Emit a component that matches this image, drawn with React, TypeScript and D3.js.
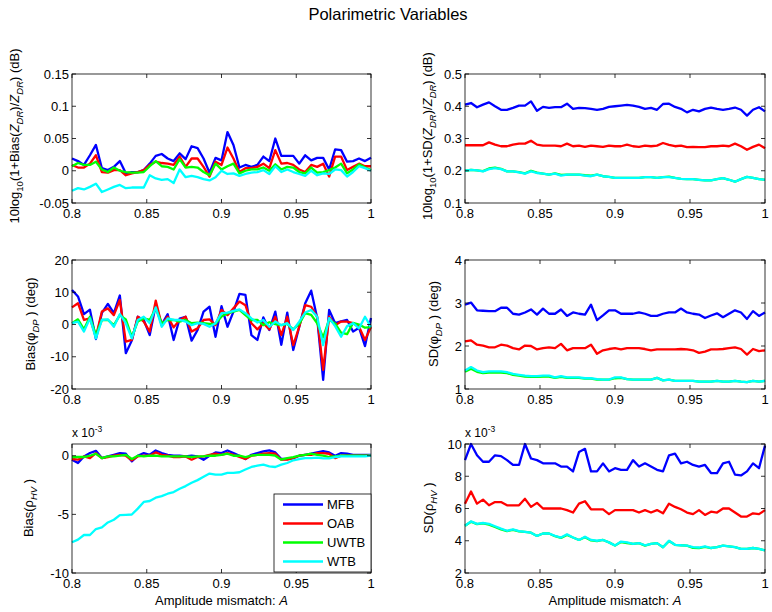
import * as d3 from "d3";

// amplitude mismatch grid, 0.8 .. 1.0
const amplitude = d3.range(51).map((i) => +(0.8 + 0.004 * i).toFixed(3));
const xTicks = [0.8, 0.85, 0.9, 0.95, 1];
const seriesNames = ["MFB", "OAB", "UWTB", "WTB"];
const seriesColors = ["#0000ff", "#ff0000", "#00ff00", "#00ffff"];

// 10log10(1+Bias(Zdr)/Zdr) (dB)
const biasZdrMFB = [0.019, 0.015, 0.009, 0.024, 0.04, 0.004, 0.001, 0.006, 0.015, -0.004, -0.002, -0.002, 0.001, 0.011, 0.023, 0.026, 0.019, 0.015, 0.027, 0.018, 0.038, 0.035, 0.019, -0.003, 0.02, 0.016, 0.06, 0.04, 0.005, 0.009, 0.006, 0.009, 0.022, 0.015, 0.05, 0.023, 0.023, 0.023, 0.011, 0.024, 0.016, 0.02, 0.02, 0.002, 0.033, 0.032, 0.014, 0.015, 0.019, 0.015, 0.02];
const biasZdrOAB = [0.009, 0.005, 0.005, 0.011, 0.024, -0.002, -0.003, 0.001, 0.001, -0.007, -0.004, -0.002, 0.001, 0.009, 0.014, 0.012, 0.011, 0.009, 0.022, 0.006, 0.019, 0.019, 0.006, -0.009, 0.014, 0.009, 0.036, 0.019, -0.002, 0.004, 0.004, 0.006, 0.011, 0.004, 0.032, 0.011, 0.012, 0.009, 0.002, -0.002, 0.009, 0.006, 0.011, -0.009, 0.022, 0.022, 0.001, 0.006, 0.011, 0.007, 0.007];
const biasZdrUWTB = [0.007, 0.012, 0.009, 0.009, 0.014, 0.002, -0.002, 0.005, 0, -0.002, -0.003, -0.003, -0.002, 0.007, 0.015, 0.007, 0.006, 0.002, 0.018, 0.005, 0.006, 0.005, -0.002, -0.007, 0.011, 0.002, 0.007, 0.011, -0.004, 0, 0.002, 0.002, 0.005, 0, 0.01, 0.002, 0.006, 0.005, -0.002, -0.004, 0.005, -0.003, -0.002, 0.001, 0.005, 0.011, -0.004, 0.002, 0.01, 0.005, 0.001];
const biasZdrWTB = [-0.031, -0.027, -0.029, -0.025, -0.02, -0.033, -0.029, -0.025, -0.022, -0.027, -0.026, -0.026, -0.026, -0.007, -0.012, -0.014, -0.013, -0.019, 0.002, -0.01, -0.008, -0.01, -0.013, -0.015, -0.01, 0, -0.005, -0.004, -0.008, -0.005, -0.003, -0.002, 0.001, -0.005, 0.007, -0.002, 0.002, -0.002, -0.005, -0.008, 0, -0.007, -0.004, -0.005, 0.002, 0.001, -0.009, -0.002, 0.007, 0.004, 0];

// 10log10(1+SD(Zdr)/Zdr) (dB)
const sdZdrMFB = [0.405, 0.41, 0.397, 0.405, 0.412, 0.4, 0.389, 0.389, 0.395, 0.402, 0.402, 0.415, 0.386, 0.398, 0.395, 0.397, 0.397, 0.408, 0.392, 0.395, 0.394, 0.392, 0.389, 0.392, 0.398, 0.4, 0.402, 0.404, 0.402, 0.398, 0.392, 0.395, 0.389, 0.407, 0.408, 0.398, 0.392, 0.381, 0.389, 0.384, 0.392, 0.396, 0.392, 0.389, 0.392, 0.396, 0.389, 0.371, 0.389, 0.397, 0.384];
const sdZdrOAB = [0.279, 0.279, 0.279, 0.279, 0.288, 0.281, 0.276, 0.276, 0.281, 0.284, 0.284, 0.293, 0.281, 0.278, 0.278, 0.278, 0.276, 0.284, 0.276, 0.278, 0.274, 0.278, 0.276, 0.274, 0.278, 0.276, 0.276, 0.281, 0.276, 0.274, 0.278, 0.276, 0.278, 0.286, 0.28, 0.276, 0.278, 0.273, 0.274, 0.273, 0.273, 0.276, 0.276, 0.278, 0.276, 0.284, 0.276, 0.265, 0.274, 0.281, 0.27];
const sdZdrUWTB = [0.2, 0.203, 0.201, 0.199, 0.207, 0.21, 0.206, 0.198, 0.198, 0.196, 0.192, 0.2, 0.194, 0.191, 0.188, 0.192, 0.187, 0.188, 0.188, 0.188, 0.186, 0.185, 0.188, 0.183, 0.181, 0.178, 0.178, 0.178, 0.178, 0.178, 0.18, 0.18, 0.178, 0.18, 0.182, 0.178, 0.175, 0.174, 0.174, 0.172, 0.17, 0.17, 0.174, 0.177, 0.172, 0.166, 0.174, 0.181, 0.178, 0.174, 0.172];
const sdZdrWTB = [0.2, 0.203, 0.201, 0.198, 0.205, 0.208, 0.205, 0.198, 0.198, 0.195, 0.191, 0.198, 0.193, 0.191, 0.188, 0.191, 0.185, 0.188, 0.188, 0.188, 0.185, 0.183, 0.188, 0.183, 0.181, 0.178, 0.178, 0.178, 0.178, 0.178, 0.18, 0.18, 0.178, 0.18, 0.18, 0.178, 0.175, 0.174, 0.174, 0.172, 0.17, 0.17, 0.174, 0.177, 0.172, 0.166, 0.174, 0.181, 0.178, 0.174, 0.172];

// Bias(phi_DP) (deg)
const biasPhiMFB = [10.7, 8.7, 3.2, 4.6, -4.5, 3.6, 6.4, 3.5, 9.0, -8.9, -5.0, 2.4, 1.4, -3.3, 6.0, 0, 3.2, -4.8, 1.8, 2.4, -5.0, -1.7, 4.0, 5.5, -3.8, 5.7, -0.7, 4.0, 9.5, 9.2, -3.3, -4.8, 2.2, -1.7, 4.0, -6.3, 3.7, -7.9, -0.7, 6.6, 10.5, 2.0, -17.2, 4.5, 0.4, 1.0, 1.4, -2.2, -1.0, -6.7, 2.0];
const biasPhiOAB = [5.3, 6.6, 1.4, 1.9, -3.8, 4.0, 5.0, 2.9, 7.6, -5.3, -4.8, 2.4, 0.9, -2.2, 7.4, -0.2, 2.4, -0.9, 1.4, 2.4, -2.2, -1.2, 1.4, 1.6, -0.2, 4.5, 2.9, 5.0, 7.1, 6.0, 0.4, -1.5, 0.4, -1.5, 2.4, -3.3, 2.4, -6.4, -0.7, 6.0, 5.5, 2.4, -14.1, 2.4, -0.2, 0.9, 0.9, 0.4, -0.7, -4.8, -0.8];
const biasPhiUWTB = [0.4, 1.6, -1.5, 2.4, -3.3, 1.4, 1.4, -0.2, 2.9, 1.6, -3.8, 0.9, 1.9, 1.4, 5.0, 0.4, 1.4, 1.4, 0.9, 1.4, 0.4, 0.6, 0.4, 0.2, 0.2, 2.5, 3.5, 4.0, 4.5, 2.9, 1.4, 1.4, -0.2, 0.7, 0.1, -0.2, 0.2, -1.5, 0.2, 3.5, 3.0, 0.4, -4.0, 1.5, 0.3, -2.5, -3.0, 0.5, 0.0, -1.0, -0.8];
const biasPhiWTB = [0.4, 0.9, -2.2, 1.9, -4.3, 1.4, 1.6, -0.7, 3.2, 0.4, -4.3, 1.4, 2.4, 0.4, 5.3, -0.7, 1.9, 1.4, 1.4, 0.9, -0.2, 0.4, 0.2, -0.7, 0.4, 3.5, 3.7, 4.2, 4.7, 3.5, 1.9, 0.6, 1.4, -0.7, 0.9, -0.2, 0.4, -1.7, 0.9, 3.7, 4.5, 2.4, -6.4, 2.0, -0.5, -3.8, -0.5, 0.4, -1.2, 2.4, -0.8];

// SD(phi_DP) (deg)
const sdPhiMFB = [2.96, 3.01, 2.83, 2.82, 2.81, 2.81, 2.89, 2.89, 2.75, 2.73, 2.78, 2.85, 2.73, 2.87, 2.75, 2.75, 2.85, 2.7, 2.78, 2.75, 2.73, 2.96, 2.6, 2.71, 2.83, 2.83, 2.75, 2.75, 2.75, 2.78, 2.75, 2.7, 2.7, 2.75, 2.78, 2.78, 2.87, 2.78, 2.75, 2.73, 2.65, 2.71, 2.76, 2.67, 2.75, 2.83, 2.78, 2.63, 2.81, 2.7, 2.78];
const sdPhiOAB = [2.11, 2.13, 2.03, 2.01, 1.97, 1.97, 2.03, 2.01, 1.95, 1.92, 2.01, 2.0, 1.92, 1.95, 1.97, 1.95, 2.05, 1.9, 1.95, 1.95, 1.95, 2.03, 1.82, 1.9, 1.93, 1.95, 1.92, 1.95, 1.95, 1.95, 1.93, 1.9, 1.92, 1.92, 1.92, 1.92, 1.93, 1.92, 1.9, 1.84, 1.87, 1.92, 1.92, 1.93, 1.95, 1.97, 1.93, 1.8, 1.93, 1.88, 1.9];
const sdPhiUWTB = [1.4, 1.47, 1.4, 1.37, 1.38, 1.38, 1.38, 1.37, 1.33, 1.31, 1.29, 1.28, 1.28, 1.29, 1.29, 1.26, 1.28, 1.26, 1.26, 1.26, 1.24, 1.24, 1.22, 1.22, 1.22, 1.25, 1.26, 1.23, 1.22, 1.22, 1.22, 1.22, 1.26, 1.2, 1.22, 1.19, 1.19, 1.19, 1.19, 1.17, 1.17, 1.17, 1.19, 1.17, 1.17, 1.19, 1.17, 1.16, 1.19, 1.17, 1.19];
const sdPhiWTB = [1.43, 1.51, 1.43, 1.39, 1.41, 1.41, 1.41, 1.39, 1.35, 1.33, 1.31, 1.3, 1.3, 1.31, 1.31, 1.27, 1.3, 1.27, 1.27, 1.27, 1.25, 1.25, 1.23, 1.22, 1.22, 1.27, 1.27, 1.23, 1.22, 1.22, 1.22, 1.22, 1.26, 1.2, 1.22, 1.19, 1.19, 1.19, 1.19, 1.17, 1.17, 1.17, 1.19, 1.17, 1.17, 1.19, 1.17, 1.16, 1.19, 1.17, 1.19];

// Bias(rho_HV), in units of 1e-3
const biasRhoMFB = [-0.34, -0.62, -0.06, 0.23, 0.42, -0.2, -0.06, 0.08, 0.23, 0.17, -0.48, 0, 0.23, 0.08, 0.45, 0.23, 0.08, 0, 0, -0.06, 0, -0.06, -0.34, 0, 0.28, 0.23, 0.45, 0.23, 0, -0.28, 0.08, 0.23, 0.37, 0.45, 0.28, -0.28, -0.28, -0.2, 0, 0.08, 0.17, 0.28, 0.39, 0.28, 0, 0.23, 0.17, 0.08, 0.08, 0.06, 0.08];
const biasRhoOAB = [-0.28, -0.34, -0.06, -0.2, 0.23, -0.2, -0.11, 0, 0.08, 0, -0.39, -0.06, 0, 0, 0.28, 0.08, 0, -0.11, -0.11, -0.06, -0.34, -0.11, -0.06, 0.08, 0.17, 0.08, 0.23, 0.08, -0.11, -0.28, 0, 0.08, 0.17, 0.23, 0.17, -0.34, -0.34, -0.2, 0, 0.08, 0.08, 0.23, 0.23, 0.17, -0.2, 0, 0, 0, 0, 0, 0];
const biasRhoUWTB = [-0.11, -0.11, -0.11, 0, 0.17, -0.2, -0.06, -0.06, 0, 0.08, -0.28, 0, -0.06, 0, 0, -0.06, -0.06, -0.06, -0.06, -0.06, -0.11, -0.06, -0.06, 0, 0, 0.08, 0.17, 0, 0, -0.11, 0, 0.08, 0.08, 0.08, 0, -0.34, -0.2, -0.11, 0, 0.08, 0.17, 0.08, 0, -0.11, -0.06, 0, 0, 0, 0, 0, 0];
const biasRhoWTB = [-7.38, -7.15, -6.76, -6.76, -6.25, -6.11, -5.69, -5.46, -5.07, -5.04, -5.01, -4.51, -3.94, -3.86, -3.58, -3.44, -3.24, -3.1, -2.82, -2.59, -2.31, -2.08, -1.8, -1.52, -1.61, -1.61, -1.46, -1.46, -1.41, -1.18, -0.96, -0.85, -0.76, -0.9, -0.96, -0.76, -0.62, -0.39, -0.28, -0.2, -0.2, -0.17, -0.23, -0.23, -0.11, -0.06, -0.06, -0.06, -0.06, -0.06, 0];

// SD(rho_HV), in units of 1e-3
const sdRhoMFB = [9.0, 10.0, 9.3, 8.9, 8.9, 9.3, 9.25, 9.0, 8.7, 8.7, 10.0, 9.1, 9.0, 8.8, 8.8, 8.8, 8.6, 8.6, 8.3, 9.5, 9.7, 8.3, 8.3, 8.8, 8.3, 8.5, 8.4, 8.4, 9.0, 8.6, 8.8, 8.6, 8.4, 8.3, 9.3, 9.4, 8.8, 8.9, 8.7, 8.6, 8.7, 8.2, 8.2, 8.8, 8.9, 8.1, 8.05, 8.3, 8.8, 8.5, 9.9];
const sdRhoOAB = [6.3, 7.05, 6.3, 6.55, 6.2, 6.4, 6.4, 6.2, 6.2, 6.2, 6.6, 6.1, 6.35, 6.0, 6.0, 6.0, 6.0, 5.9, 5.75, 6.3, 6.45, 5.95, 5.95, 5.95, 5.65, 5.9, 5.9, 5.9, 5.9, 5.75, 5.9, 5.75, 5.9, 5.7, 6.3, 6.1, 5.95, 5.75, 5.65, 5.9, 5.6, 5.8, 5.75, 6.0, 6.0, 5.75, 5.5, 5.5, 5.7, 5.65, 5.9];
const sdRhoUWTB = [4.93, 5.18, 5.03, 5.08, 5.0, 4.85, 4.7, 4.6, 4.68, 4.58, 4.55, 4.5, 4.3, 4.45, 4.45, 4.28, 4.18, 4.36, 4.2, 4.05, 4.22, 4.02, 3.98, 4.05, 3.9, 3.7, 3.92, 3.86, 3.8, 3.85, 3.7, 3.8, 3.85, 3.6, 3.98, 3.75, 3.72, 3.7, 3.56, 3.55, 3.62, 3.55, 3.6, 3.7, 3.65, 3.6, 3.5, 3.5, 3.55, 3.5, 3.4];
const sdRhoWTB = [4.93, 5.2, 5.05, 5.1, 5.05, 4.9, 4.75, 4.62, 4.7, 4.6, 4.55, 4.5, 4.3, 4.45, 4.45, 4.3, 4.2, 4.4, 4.2, 4.05, 4.25, 4.05, 4.0, 4.05, 3.9, 3.7, 3.95, 3.9, 3.8, 3.85, 3.72, 3.8, 3.85, 3.6, 4.0, 3.75, 3.72, 3.7, 3.6, 3.58, 3.65, 3.55, 3.6, 3.7, 3.65, 3.6, 3.5, 3.5, 3.55, 3.5, 3.4];

const FONT = "'Liberation Sans', Arial, Helvetica, sans-serif";
const H = 129;
const TICK = 4;
const FS = 13;

const fmt = (v: number) => String(+v.toFixed(3));

type PanelProps = {
  left: number;
  top: number;
  width: number;
  yDomain: [number, number];
  yTicks: number[];
  series: number[][];
};

function Panel({ left, top, width, yDomain, yTicks, series }: PanelProps) {
  const x = d3.scaleLinear().domain([0.8, 1]).range([left, left + width]);
  const y = d3.scaleLinear().domain(yDomain).range([top + H, top]);
  const line = d3
    .line<number>()
    .x((_, i) => x(amplitude[i]))
    .y((d) => y(d));
  const bottom = top + H;
  const right = left + width;

  return (
    <g>
      {series.map((s, k) => (
        <path
          key={k}
          d={line(s) ?? ""}
          fill="none"
          stroke={seriesColors[k]}
          strokeWidth={2.3}
          strokeLinejoin="round"
        />
      ))}
      <rect x={left} y={top} width={width} height={H} fill="none" stroke="#000" strokeWidth={0.8} />
      {xTicks.map((t) => (
        <g key={"x" + t}>
          <line x1={x(t)} x2={x(t)} y1={bottom} y2={bottom - TICK} stroke="#000" strokeWidth={0.8} />
          <line x1={x(t)} x2={x(t)} y1={top} y2={top + TICK} stroke="#000" strokeWidth={0.8} />
          <text x={x(t)} y={bottom + 15} textAnchor="middle" fontSize={FS}>
            {fmt(t)}
          </text>
        </g>
      ))}
      {yTicks.map((t) => (
        <g key={"y" + t}>
          <line x1={left} x2={left + TICK} y1={y(t)} y2={y(t)} stroke="#000" strokeWidth={0.8} />
          <line x1={right} x2={right - TICK} y1={y(t)} y2={y(t)} stroke="#000" strokeWidth={0.8} />
          <text x={left - 3} y={y(t) + 4.5} textAnchor="end" fontSize={FS}>
            {fmt(t)}
          </text>
        </g>
      ))}
    </g>
  );
}

function YLabel({ x, y, children }: { x: number; y: number; children: React.ReactNode }) {
  return (
    <text transform={`translate(${x},${y}) rotate(-90)`} textAnchor="middle" fontSize={FS}>
      {children}
    </text>
  );
}

const Sub = ({ children, italic }: { children: React.ReactNode; italic?: boolean }) => (
  <tspan dy={3.5} fontSize={9.5} fontStyle={italic ? "italic" : undefined}>
    {children}
  </tspan>
);
const Up = ({ children, italic }: { children: React.ReactNode; italic?: boolean }) => (
  <tspan dy={-3.5} fontStyle={italic ? "italic" : undefined}>
    {children}
  </tspan>
);

function Exponent({ x, y }: { x: number; y: number }) {
  return (
    <text x={x} y={y} fontSize={12}>
      x 10<tspan dy={-5} fontSize={8.5}>-3</tspan>
    </text>
  );
}

function XLabel({ x }: { x: number }) {
  return (
    <text x={x} y={605} textAnchor="middle" fontSize={FS}>
      Amplitude mismatch: <tspan fontStyle="italic">A</tspan>
    </text>
  );
}

export default function App() {
  const L = 72;
  const R = 465;
  const rows = [74, 260, 444];
  const legendX = 274;
  const legendY = 494;

  return (
    <div style={{ position: "absolute", left: 0, top: 0 }}>
      <svg width={772} height={612} style={{ display: "block", background: "#fff", fontFamily: FONT }}>
        <text x={388} y={20} textAnchor="middle" fontSize={16.5}>
          Polarimetric Variables
        </text>

        <Panel left={L} top={rows[0]} width={299} yDomain={[-0.05, 0.15]} yTicks={[-0.05, 0, 0.05, 0.1, 0.15]}
          series={[biasZdrMFB, biasZdrOAB, biasZdrUWTB, biasZdrWTB]} />
        <Panel left={R} top={rows[0]} width={300} yDomain={[0.1, 0.5]} yTicks={[0.1, 0.2, 0.3, 0.4, 0.5]}
          series={[sdZdrMFB, sdZdrOAB, sdZdrUWTB, sdZdrWTB]} />
        <Panel left={L} top={rows[1]} width={299} yDomain={[-20, 20]} yTicks={[-20, -10, 0, 10, 20]}
          series={[biasPhiMFB, biasPhiOAB, biasPhiUWTB, biasPhiWTB]} />
        <Panel left={R} top={rows[1]} width={300} yDomain={[1, 4]} yTicks={[1, 2, 3, 4]}
          series={[sdPhiMFB, sdPhiOAB, sdPhiUWTB, sdPhiWTB]} />
        <Panel left={L} top={rows[2]} width={299} yDomain={[-10, 1]} yTicks={[-10, -5, 0]}
          series={[biasRhoMFB, biasRhoOAB, biasRhoUWTB, biasRhoWTB]} />
        <Panel left={R} top={rows[2]} width={300} yDomain={[2, 10]} yTicks={[2, 4, 6, 8, 10]}
          series={[sdRhoMFB, sdRhoOAB, sdRhoUWTB, sdRhoWTB]} />

        <YLabel x={19} y={136}>
          10log<Sub>10</Sub><Up>(1+Bias(</Up><tspan fontStyle="italic">Z</tspan><Sub italic>DR</Sub>
          <Up>)/</Up><tspan fontStyle="italic">Z</tspan><Sub italic>DR</Sub><Up>) (dB)</Up>
        </YLabel>
        <YLabel x={432} y={136}>
          10log<Sub>10</Sub><Up>(1+SD(</Up><tspan fontStyle="italic">Z</tspan><Sub italic>DR</Sub>
          <Up>)/</Up><tspan fontStyle="italic">Z</tspan><Sub italic>DR</Sub><Up>) (dB)</Up>
        </YLabel>
        <YLabel x={35} y={324}>
          Bias(φ<Sub italic>DP</Sub><Up> ) (deg)</Up>
        </YLabel>
        <YLabel x={438} y={324}>
          SD(φ<Sub italic>DP</Sub><Up> ) (deg)</Up>
        </YLabel>
        <YLabel x={33} y={508}>
          Bias(ρ<Sub italic>HV</Sub><Up> )</Up>
        </YLabel>
        <YLabel x={433} y={508}>
          SD(ρ<Sub italic>HV</Sub><Up> )</Up>
        </YLabel>

        <Exponent x={L} y={437} />
        <Exponent x={R} y={437} />
        <XLabel x={221.5} />
        <XLabel x={615} />

        <g>
          <rect x={legendX} y={legendY} width={97} height={78} fill="#fff" stroke="#000" strokeWidth={0.8} />
          {seriesNames.map((name, k) => {
            const yy = legendY + 10.5 + k * 19;
            return (
              <g key={name}>
                <line x1={legendX + 9} x2={legendX + 49} y1={yy} y2={yy} stroke={seriesColors[k]} strokeWidth={2.3} />
                <text x={legendX + 53} y={yy + 4.5} fontSize={FS}>
                  {name}
                </text>
              </g>
            );
          })}
        </g>
      </svg>
    </div>
  );
}
